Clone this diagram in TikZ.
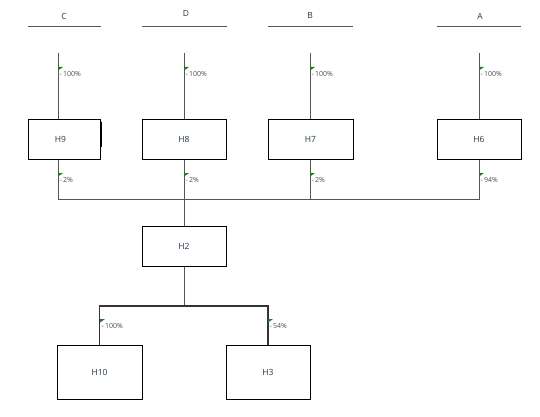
\documentclass[tikz,border=0pt]{standalone}
\usepackage{fontspec}
\setmainfont{Open Sans}
\usetikzlibrary{positioning,calc}
\definecolor{flaggreen}{HTML}{1F7A1F}
\definecolor{linegray}{HTML}{555555}
\definecolor{boxtext}{HTML}{23394A}
\newcommand{\shareflag}[2]{%
  \fill[flaggreen] (#1) -- ++(5,0) -- ++(-5,3.5) -- cycle;
  \node[pct, anchor=west] at ($(#1)+(1.5,6.5)$) {-\,#2\%};}

\begin{document}
\begin{tikzpicture}[x=1pt, y=-1pt,
  every node/.style={align=center, inner sep=0pt},
  hbox/.style={draw, line width=1pt, minimum width=84pt, minimum height=40pt, text=boxtext, font=\fontsize{8.5}{10}\selectfont},
  header/.style={font=\fontsize{8.5}{10}\selectfont, text=boxtext},
  pct/.style={font=\fontsize{7}{8}\selectfont, text=black!70},
  topline/.style={draw=linegray, line width=0.8pt},
  feed/.style={draw=linegray, line width=0.7pt},
  bus/.style={draw=black!80, line width=1.1pt}]
  \useasboundingbox (0,0) rectangle (540,417);
  % column headers
  \node[header] (hC) at (64,16) {C};
  \node[header] (hD) at (186,13) {D};
  \node[header] (hB) at (310,15) {B};
  \node[header] (hA) at (480,16) {A};
  \draw[topline] (28,26) -- (101,26);
  \draw[topline] (142,26) -- (227,26);
  \draw[topline] (268,26) -- (353,26);
  \draw[topline] (437,26) -- (521,26);
  % first row
  \node[hbox, minimum width=72pt] (H9) at (64,139) {\hspace*{-7pt}H9};
  \node[hbox] (H8) at (184,139) {H8};
  \node[hbox, minimum width=85pt] (H7) at (310.5,139) {H7};
  \node[hbox] (H6) at (479,139) {H6};
  \draw[line width=2pt] (H9.north east) ++(0,3) -- ++(0,25);
  % second and third row
  \node[hbox] (H2) at (184,246) {H2};
  \node[hbox, minimum width=85pt, minimum height=54pt] (H10) at (99.5,372) {H10};
  \node[hbox, minimum height=54pt] (H3) at (268,372) {H3};
  % feeds into the first row
  \coordinate (inC) at (58,53);
  \coordinate (inD) at (184,53);
  \coordinate (inB) at (310,53);
  \coordinate (inA) at (479,53);
  \draw[feed] (inC) -- (inC |- H9.north);
  \draw[feed] (inD) -- (inD |- H8.north);
  \draw[feed] (inB) -- (inB |- H7.north);
  \draw[feed] (inA) -- (inA |- H6.north);
  % collecting bus
  \coordinate (busL) at (58,199);
  \coordinate (busR) at (479,199);
  \draw[feed] (busL |- H9.south) -- (busL) -- (busR) -- (busR |- H6.south);
  \draw[feed] (H8.south) -- (H2.north);
  \draw[feed] (inB |- H7.south) -- (inB |- busL);
  % split below H2
  \coordinate (split) at (184,306);
  \draw[feed] (H2.south) -- (split);
  \draw[bus] (H10.north) |- (split) -| (H3.north);
  % shares
  \shareflag{58,67}{100}
  \shareflag{184,67}{100}
  \shareflag{310,67}{100}
  \shareflag{479,67}{100}
  \shareflag{58,173}{2}
  \shareflag{184,173}{2}
  \shareflag{310,173}{2}
  \shareflag{479,173}{94}
  \shareflag{100,319}{100}
  \shareflag{268,319}{54}
\end{tikzpicture}
\end{document}
